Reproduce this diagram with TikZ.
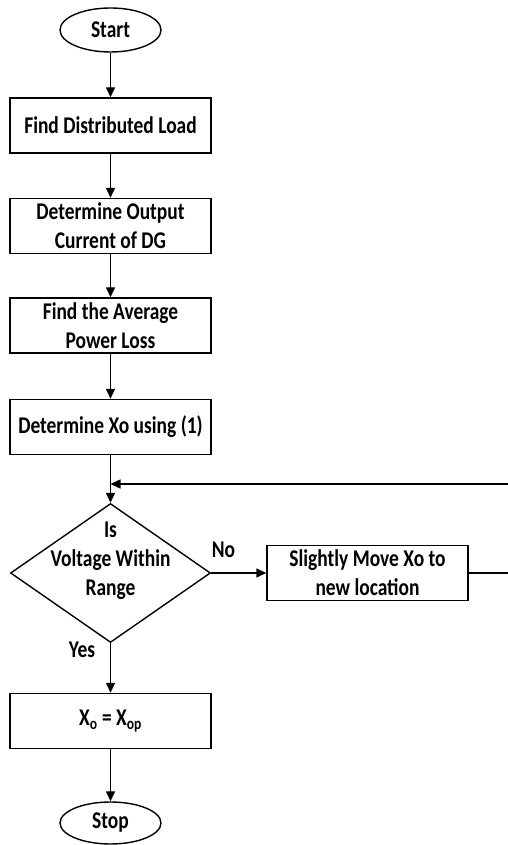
\documentclass[tikz,border=0pt]{standalone}
\usepackage{fontspec}
\setmainfont{Carlito}[FakeStretch=0.81]
\usetikzlibrary{shapes.geometric,arrows.meta}
\tikzset{
  every node/.style={font=\bfseries\fontsize{24bp}{29bp}\selectfont, inner sep=0pt},
  stepbox/.style={draw, line width=1.4bp, rectangle, minimum width=201bp, minimum height=55bp, align=center},
  terminal/.style={draw, line width=1.4bp, ellipse, minimum width=101bp, minimum height=44bp},
  decision/.style={draw, line width=1.4bp, diamond, minimum width=200bp, minimum height=139bp},
  flow/.style={line width=1.4bp, -{Triangle[length=10bp,width=9bp]}},
  plain/.style={line width=1.4bp},
}
\begin{document}
\begin{tikzpicture}[x=1bp,y=1bp]
  \useasboundingbox (0,0) rectangle (508,845);

  \node[terminal] (start) at (110.5,815) {Start};
  \node[stepbox] (load) at (110.5,719.5) {Find Distributed Load};
  \node[stepbox] (current) at (110.5,619) {Determine Output\\Current of DG};
  \node[stepbox] (loss) at (110.5,519.5) {Find the Average\\Power Loss};
  \node[stepbox] (xo) at (110.5,418) {Determine Xo using (1)};
  \node[decision] (check) at (110.5,272) {};
  \node[align=center] (checktext) at (110.5,284) {Is\\Voltage Within\\Range};
  \node[stepbox] (move) at (367.5,272) {Slightly Move Xo to\\new location};
  \node[stepbox] (result) at (110.5,124) {X\textsubscript{o} = X\textsubscript{op}};
  \node[terminal, minimum height=42bp] (stop) at (110.5,22) {Stop};

  \node (no) at (223.5,295) {No};
  \node (yes) at (82,195) {Yes};

  \coordinate (join) at (110.5,361);
  \coordinate (backin) at (508,361);
  \coordinate (backout) at (508,272);

  \draw[flow] (start) -- (load);
  \draw[flow] (load) -- (current);
  \draw[flow] (current) -- (loss);
  \draw[flow] (loss) -- (xo);
  \draw[flow] (xo) -- (check.north);
  \draw[flow] (backin) -- (join);
  \draw[flow] (check.east) -- (move.west);
  \draw[plain] (move.east) -- (backout);
  \draw[flow] (check.south) -- (result);
  \draw[flow] (result) -- (stop);
\end{tikzpicture}
\end{document}
